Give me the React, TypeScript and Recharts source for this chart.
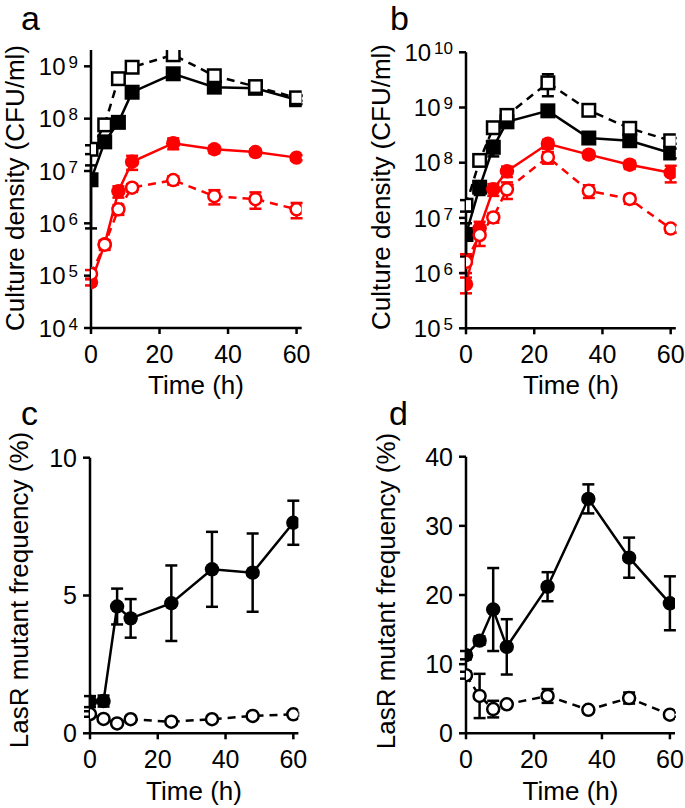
import React from 'react';
import { LineChart, Line, XAxis, YAxis, ErrorBar } from 'recharts';

const FONT = '"Liberation Sans", Arial, Helvetica, sans-serif';
const RED = '#ff0000';
const BLACK = '#000000';

// sampling times (h)
const hours = [0, 4, 8, 12, 24, 36, 48, 60];
const timeTicks = [0, 20, 40, 60];

// panel a, CFU/ml
const aSolidSquare = [6.8e6, 3.6e7, 8.5e7, 3.2e8, 7.2e8, 4.0e8, 3.8e8, 2.3e8];
const aSolidSquareErr = [6e6, 8e6, 1e7, 5e7, 1e8, 6e7, 5e7, 4e7];
const aOpenSquare = [2.6e7, 7.6e7, 5.8e8, 9.6e8, 1.66e9, 6.6e8, 4.1e8, 2.5e8];
const aOpenSquareErr = [5e6, 1e7, 8e7, 1e8, 2e8, 8e7, 5e7, 3e7];
const aSolidCircle = [7.5e4, 4.0e5, 4.1e6, 1.5e7, 3.4e7, 2.6e7, 2.3e7, 1.8e7];
const aSolidCircleErr = [1e4, 5e4, 1e6, 4.5e6, 8e6, 4e6, 3e6, 2e6];
const aOpenCircle = [1.08e5, 3.9e5, 1.85e6, 4.8e6, 6.7e6, 3.3e6, 2.9e6, 1.85e6];
const aOpenCircleErr = [2e4, 8e4, 4e5, 8e5, 1.2e6, 1e6, 1e6, 6e5];
const aTicks = [1e4, 1e5, 1e6, 1e7, 1e8, 1e9];

// panel b, CFU/ml
const bSolidSquare = [5e6, 3.6e7, 1.9e8, 5.5e8, 8.7e8, 2.8e8, 2.5e8, 1.5e8];
const bSolidSquareErr = [3e6, 1e7, 6e7, 8e7, 1.5e8, 4e7, 3e7, 3e7];
const bOpenSquare = [1.7e7, 1.1e8, 4.3e8, 7.2e8, 2.8e9, 8.9e8, 4.2e8, 2.5e8];
const bOpenSquareErr = [4e6, 2e7, 8e7, 1e8, 1.2e9, 1e8, 6e7, 3e7];
const bSolidCircle = [6.3e5, 6.5e6, 3.3e7, 7e7, 2.2e8, 1.4e8, 9.2e7, 6.6e7];
const bSolidCircleErr = [2e5, 2e6, 8e6, 1.5e7, 4e7, 2e7, 1.5e7, 2.2e7];
const bOpenCircle = [1.6e6, 4.9e6, 1.02e7, 3.3e7, 1.26e8, 3.1e7, 2.2e7, 6.4e6];
const bOpenCircleErr = [6e5, 1.8e6, 2e6, 1.1e7, 3e7, 8e6, 4e6, 1e6];
const bTicks = [1e5, 1e6, 1e7, 1e8, 1e9, 1e10];

// panel c, %
const cSolid = [1.15, 1.17, 4.6, 4.17, 4.72, 5.95, 5.83, 7.64];
const cSolidErr = [0.2, 0.2, 0.65, 0.7, 1.37, 1.36, 1.42, 0.8];
const cOpen = [0.7, 0.52, 0.36, 0.51, 0.42, 0.51, 0.63, 0.69];
const cOpenErr = [0.1, 0.05, 0.05, 0.05, 0.05, 0.05, 0.05, 0.05];
const cTicks = [0, 5, 10];

// panel d, %
const dSolid = [11.3, 13.4, 17.9, 12.5, 21.2, 33.9, 25.4, 18.8];
const dSolidErr = [0.6, 0.6, 6, 4, 2.1, 2.1, 2.9, 3.9];
const dOpen = [8.4, 5.4, 3.5, 4.2, 5.4, 3.4, 5.1, 2.7];
const dOpenErr = [0.5, 3.2, 1.2, 0.4, 1, 0.3, 0.8, 0.3];
const dTicks = [0, 10, 20, 30, 40];

const rows = (cols: Record<string, number[]>) =>
  hours.map((h, i) => {
    const r: Record<string, number> = { h };
    Object.keys(cols).forEach((k) => (r[k] = cols[k][i]));
    return r;
  });

const dataA = rows({ ss: aSolidSquare, ssE: aSolidSquareErr, os: aOpenSquare, osE: aOpenSquareErr, sc: aSolidCircle, scE: aSolidCircleErr, oc: aOpenCircle, ocE: aOpenCircleErr });
const dataB = rows({ ss: bSolidSquare, ssE: bSolidSquareErr, os: bOpenSquare, osE: bOpenSquareErr, sc: bSolidCircle, scE: bSolidCircleErr, oc: bOpenCircle, ocE: bOpenCircleErr });
const dataC = rows({ sc: cSolid, scE: cSolidErr, oc: cOpen, ocE: cOpenErr });
const dataD = rows({ sc: dSolid, scE: dSolidErr, oc: dOpen, ocE: dOpenErr });

type Series = { key: string; err: string; color: string; shape: 'square' | 'circle'; open?: boolean };

const densitySeries: Series[] = [
  { key: 'ss', err: 'ssE', color: BLACK, shape: 'square' },
  { key: 'os', err: 'osE', color: BLACK, shape: 'square', open: true },
  { key: 'sc', err: 'scE', color: RED, shape: 'circle' },
  { key: 'oc', err: 'ocE', color: RED, shape: 'circle', open: true },
];
const freqSeries: Series[] = [
  { key: 'sc', err: 'scE', color: BLACK, shape: 'circle' },
  { key: 'oc', err: 'ocE', color: BLACK, shape: 'circle', open: true },
];

const makeDot = (s: Series) => (props: any) => {
  const { cx, cy, index } = props;
  if (cx == null || cy == null) return <g key={`e-${s.key}-${index}`} />;
  if (s.shape === 'square') {
    const size = s.open ? 12.5 : 15;
    return (
      <rect key={`d-${s.key}-${index}`} x={cx - size / 2} y={cy - size / 2} width={size} height={size}
        fill={s.open ? '#fff' : s.color} stroke={s.color} strokeWidth={s.open ? 2.5 : 0} />
    );
  }
  return (
    <circle key={`d-${s.key}-${index}`} cx={cx} cy={cy} r={s.open ? 6 : 7.2}
      fill={s.open ? '#fff' : s.color} stroke={s.color} strokeWidth={s.open ? 2.5 : 0} />
  );
};

const PowTick = (props: any) => {
  const { x, y, payload } = props;
  const exp = Math.round(Math.log10(payload.value));
  return (
    <text x={x} y={y} textAnchor="end" fontFamily={FONT} fontSize={24} fill="#000">
      <tspan dy="0.36em">10</tspan>
      <tspan dx={3} dy={-7} fontSize={17}>{exp}</tspan>
    </text>
  );
};

type PanelProps = {
  left: number; top: number; width: number; height: number;
  yWidth: number; mTop: number; mRight: number; xHeight: number;
  data: Record<string, number>[]; series: Series[];
  log?: boolean; yDomain: [number, number]; yTicks: number[];
  letter: string; letterX: number; letterY: number;
  title: string; titleX: number; titleY: number;
  timeX: number; timeY: number;
};

const Panel = (p: PanelProps) => (
  <div style={{ position: 'absolute', left: p.left, top: p.top }}>
    <LineChart width={p.width} height={p.height} data={p.data}
      margin={{ top: p.mTop, right: p.mRight, bottom: 0, left: 0 }}>
      <XAxis dataKey="h" type="number" domain={[0, 61.5]} ticks={timeTicks} allowDataOverflow
        height={p.xHeight} tickSize={6} tickMargin={11}
        axisLine={{ stroke: '#000', strokeWidth: 2.5 }} tickLine={{ stroke: '#000', strokeWidth: 2.5 }}
        tick={{ fill: '#000', fontSize: 25, fontFamily: FONT }}
        label={() => (
          <text x={p.timeX} y={p.timeY} textAnchor="middle" fontFamily={FONT} fontSize={26} fill="#000">Time (h)</text>
        )} />
      <YAxis type="number" scale={p.log ? 'log' : 'linear'} domain={p.yDomain} ticks={p.yTicks} allowDataOverflow
        width={p.yWidth} tickSize={7} tickMargin={6} interval={0}
        axisLine={{ stroke: '#000', strokeWidth: 2.5 }} tickLine={{ stroke: '#000', strokeWidth: 2.5 }}
        tick={p.log ? <PowTick /> : { fill: '#000', fontSize: 25, fontFamily: FONT }}
        label={() => (
          <g>
            <text x={p.titleX} y={p.titleY} transform={`rotate(-90 ${p.titleX} ${p.titleY})`} textAnchor="middle"
              fontFamily={FONT} fontSize={26} fill="#000">{p.title}</text>
            <text x={p.letterX} y={p.letterY} fontFamily={FONT} fontSize={34} fill="#000">{p.letter}</text>
          </g>
        )} />
      {p.series.map((s) => (
        <Line key={s.key} type="linear" dataKey={s.key} stroke={s.color} strokeWidth={2.5}
          strokeDasharray={s.open ? '8 6' : undefined} dot={makeDot(s)} activeDot={false}
          isAnimationActive={false}>
          <ErrorBar dataKey={s.err} direction="y" width={6} stroke={s.color} strokeWidth={2.5} isAnimationActive={false} />
        </Line>
      ))}
    </LineChart>
  </div>
);

export default function App() {
  return (
    <div style={{ position: 'absolute', left: 0, top: 0, width: 685, height: 808, background: '#fff' }}>
      <Panel left={0} top={0} width={340} height={400} yWidth={91} mTop={50} mRight={38.3} xHeight={72}
        data={dataA} series={densitySeries} log yDomain={[1e4, 2.05e9]} yTicks={aTicks}
        letter="a" letterX={21} letterY={30} title="Culture density (CFU/ml)" titleX={24} titleY={188}
        timeX={196} timeY={394} />
      <Panel left={340} top={0} width={345} height={400} yWidth={126} mTop={52.3} mRight={9.2} xHeight={71.7}
        data={dataB} series={densitySeries} log yDomain={[1e5, 1e10]} yTicks={bTicks}
        letter="b" letterX={50} letterY={30} title="Culture density (CFU/ml)" titleX={49.5} titleY={187}
        timeX={231} timeY={394} />
      <Panel left={0} top={388} width={340} height={420} yWidth={90} mTop={69.7} mRight={41.6} xHeight={74.7}
        data={dataC} series={freqSeries} yDomain={[0, 10]} yTicks={cTicks}
        letter="c" letterX={21} letterY={37} title="LasR mutant frequency (%)" titleX={28} titleY={202}
        timeX={194} timeY={412} />
      <Panel left={340} top={388} width={345} height={420} yWidth={126} mTop={68.7} mRight={10} xHeight={74.7}
        data={dataD} series={freqSeries} yDomain={[0, 40]} yTicks={dTicks}
        letter="d" letterX={49} letterY={37} title="LasR mutant frequency (%)" titleX={55} titleY={203}
        timeX={230.5} timeY={412} />
    </div>
  );
}
